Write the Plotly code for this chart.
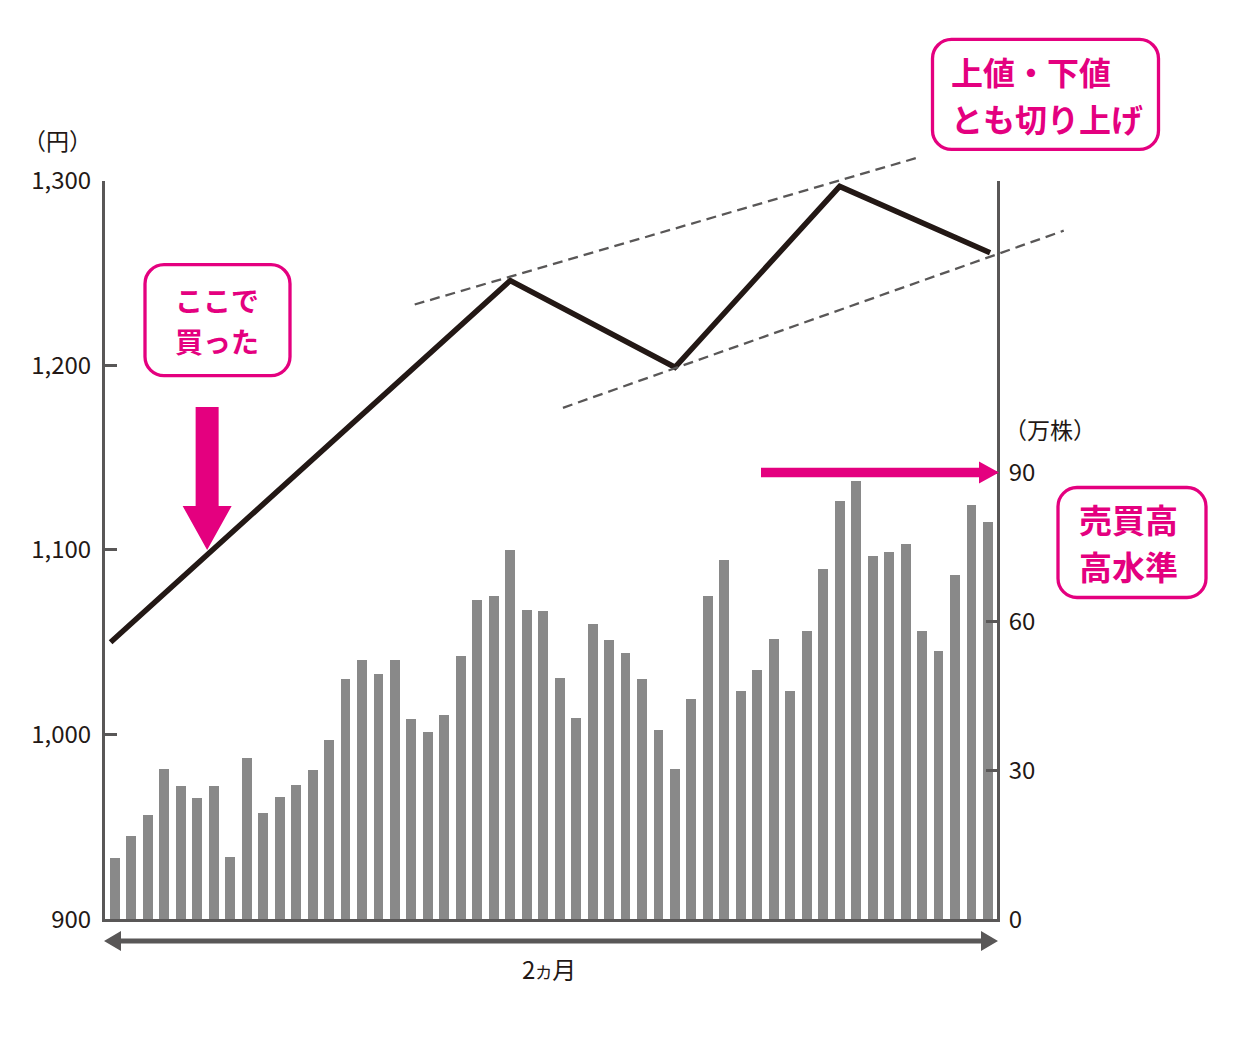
import plotly.graph_objects as go

W, H = 1236, 1042
# measured offset/scale of the page vs. the figure's paper in the screenshot
OFF_X, OFF_Y, H_EFF = 8, 28, 1008

PINK = "#E4007F"
AXIS = "#595757"
BAR = "#898989"
INK = "#231815"
JP = "Noto Sans CJK JP"

# 出来高（万株）
volume = [12.4, 16.7, 21.0, 30.2, 26.8, 24.5, 26.8, 12.5, 32.6, 21.5,
          24.7, 27.0, 30.0, 36.2, 48.5, 52.3, 49.4, 52.3, 40.4, 37.8,
          41.1, 53.1, 64.3, 65.2, 74.5, 62.4, 62.2, 48.7, 40.6, 59.6,
          56.2, 53.7, 48.5, 38.2, 30.2, 44.3, 65.2, 72.5, 46.1, 50.3,
          56.4, 46.1, 58.2, 70.6, 84.3, 88.4, 73.3, 74.1, 75.7, 58.2,
          54.0, 69.4, 83.5, 80.0]
days = list(range(len(volume)))

# 株価（円）
price_x = [-0.26, 24, 34, 44, 53.13]
price_y = [1050, 1246, 1199, 1297, 1261]

# trend lines
upper_x = [18.2, 48.9]
upper_y = [1233, 1313]
lower_x = [27.2, 57.6]
lower_y = [1177, 1273]

price_ticks = [900, 1000, 1100, 1200, 1300]
price_labels = ["900", "1,000", "1,100", "1,200", "1,300"]
vol_ticks = [0, 30, 60, 90]
vol_labels = ["0", "30", "60", "90"]

# plot box in (screen) pixels
PL, PR, PT, PB = 105, 997, 181, 920
X_RANGE = [-0.6, 53.55]
Y_RANGE = [900, 1300]
Y2_RANGE = [0, 148.8]


def fx(p):
    return (p - OFF_X) / W


def fy(p):
    return 1 - (p - OFF_Y) / H_EFF


# overlay axes over whole figure, same scale as main axes (lines may leave the box)
ux = (X_RANGE[1] - X_RANGE[0]) / (PR - PL)
uy = (Y_RANGE[1] - Y_RANGE[0]) / (PB - PT)
X3_RANGE = [X_RANGE[0] - (PL - OFF_X) * ux, X_RANGE[1] + (W + OFF_X - PR) * ux]
Y3_RANGE = [Y_RANGE[0] - (H_EFF + OFF_Y - PB) * uy, Y_RANGE[1] + (PT - OFF_Y) * uy]

fig = go.Figure()

fig.add_trace(go.Bar(x=days, y=volume, width=0.6, marker_color=BAR,
                     marker_line_width=0, xaxis="x", yaxis="y2"))
fig.add_trace(go.Scatter(x=price_x, y=price_y, mode="lines",
                         line=dict(color=INK, width=5.5), xaxis="x", yaxis="y"))
for tx, ty in [(upper_x, upper_y), (lower_x, lower_y)]:
    fig.add_trace(go.Scatter(x=tx, y=ty, mode="lines",
                             line=dict(color=AXIS, width=2.3, dash="10px,6px"),
                             xaxis="x3", yaxis="y3"))


def pts_path(pts):
    # pts are screen offsets (y down) -> plotly pixel path (y up)
    s = "M %.1f,%.1f " % (pts[0][0], -pts[0][1])
    s += " ".join("L %.1f,%.1f" % (a, -b) for a, b in pts[1:])
    return s + " Z"


def rounded(w, h, r):
    k = 0.5523 * r
    x0, x1, y0, y1 = -w / 2, w / 2, -h / 2, h / 2
    return ("M %.1f,%.1f L %.1f,%.1f C %.1f,%.1f %.1f,%.1f %.1f,%.1f "
            "L %.1f,%.1f C %.1f,%.1f %.1f,%.1f %.1f,%.1f "
            "L %.1f,%.1f C %.1f,%.1f %.1f,%.1f %.1f,%.1f "
            "L %.1f,%.1f C %.1f,%.1f %.1f,%.1f %.1f,%.1f Z") % (
        x0 + r, y1, x1 - r, y1, x1 - r + k, y1, x1, y1 - r + k, x1, y1 - r,
        x1, y0 + r, x1, y0 + r - k, x1 - r + k, y0, x1 - r, y0,
        x0 + r, y0, x0 + r - k, y0, x0, y0 + r - k, x0, y0 + r,
        x0, y1 - r, x0, y1 - r + k, x0 + r - k, y1, x0 + r, y1)


shapes = []
# callout boxes (center x, center y, w, h)
for cx, cy, bw, bh in [(217.5, 320.5, 145, 111), (1045.5, 94.5, 226, 110),
                       (1132, 543, 148, 110)]:
    shapes.append(dict(type="path", xref="paper", yref="paper",
                       xsizemode="pixel", ysizemode="pixel",
                       xanchor=fx(cx), yanchor=fy(cy), path=rounded(bw, bh, 19),
                       line=dict(color=PINK, width=3.3), fillcolor="white"))

# buy arrow, tip on the price line at 1,100
shapes.append(dict(type="path", xref="x", yref="y", xsizemode="pixel",
                   ysizemode="pixel", xanchor=5.6, yanchor=1100,
                   path=pts_path([(0, 0), (-24.5, -44), (-11.5, -44), (-11.5, -143),
                                  (11.5, -143), (11.5, -44), (24.5, -44)]),
                   line_width=0, fillcolor=PINK))
# volume level arrow at 90
shapes.append(dict(type="path", xref="paper", yref="paper", xsizemode="pixel",
                   ysizemode="pixel", xanchor=fx(999), yanchor=fy(473),
                   path=pts_path([(0, 0), (-20, -11), (-20, -4.7), (-238, -4.7),
                                  (-238, 4.7), (-20, 4.7), (-20, 11)]),
                   line_width=0, fillcolor=PINK))
# period arrow under the axis
shapes.append(dict(type="path", xref="paper", yref="paper", xsizemode="pixel",
                   ysizemode="pixel", xanchor=fx(104), yanchor=fy(942),
                   path=pts_path([(0, 0), (17, -10), (17, -2.5), (877, -2.5),
                                  (877, -10), (894, 0), (877, 10), (877, 2.5),
                                  (17, 2.5), (17, 10)]),
                   line_width=0, fillcolor=AXIS))

annotations = []


def note(text, x, y, size, color=INK, bold=False, anchor="center"):
    annotations.append(dict(text=text, x=fx(x), y=fy(y), xref="paper", yref="paper",
                            showarrow=False, xanchor=anchor, yanchor="middle",
                            font=dict(family=JP, size=size, color=color,
                                      weight="bold" if bold else "normal")))


note("（円）", 57, 140, 23)
note("（万株）", 1050, 429, 23)
note("2<span style='font-size:17px'>カ</span>月", 549, 969, 24)
note("ここで", 173, 300, 28, PINK, True, "left")
note("買った", 173, 341, 28, PINK, True, "left")
note("上値・下値", 949, 71, 32, PINK, True, "left")
note("とも切り上げ", 949, 118, 32, PINK, True, "left")
note("売買高", 1077, 519, 33, PINK, True, "left")
note("高水準", 1077, 567, 33, PINK, True, "left")

axis_common = dict(showline=True, linecolor=AXIS, linewidth=3, showgrid=False,
                   zeroline=False)

fig.update_layout(
    width=W, height=H, autosize=False,
    margin=dict(l=0, r=0, t=0, b=0, pad=0),
    paper_bgcolor="white", plot_bgcolor="rgba(0,0,0,0)",
    showlegend=False, bargap=0,
    font=dict(family=JP, color=INK),
    xaxis=dict(domain=[fx(PL), fx(PR)], range=X_RANGE, showticklabels=False,
               ticks="", anchor="y", **axis_common),
    yaxis=dict(domain=[fy(PB), fy(PT)], range=Y_RANGE, tickvals=price_ticks,
               ticktext=price_labels, ticks="inside", ticklen=12, tickwidth=3,
               tickcolor=AXIS, tickfont=dict(size=24, color=INK),
               ticklabelstandoff=6, anchor="x", **axis_common),
    yaxis2=dict(domain=[fy(PB), fy(PT)], range=Y2_RANGE, overlaying="y",
                side="right", anchor="x", tickvals=vol_ticks, ticktext=vol_labels,
                ticks="inside", ticklen=11, tickwidth=3, tickcolor=AXIS,
                tickfont=dict(size=24, color=INK), ticklabelstandoff=4,
                **axis_common),
    xaxis3=dict(domain=[0, 1], range=X3_RANGE, visible=False, anchor="y3"),
    yaxis3=dict(domain=[0, 1], range=Y3_RANGE, visible=False, anchor="x3"),
    shapes=shapes,
    annotations=annotations,
)

fig.write_html("out.html")
